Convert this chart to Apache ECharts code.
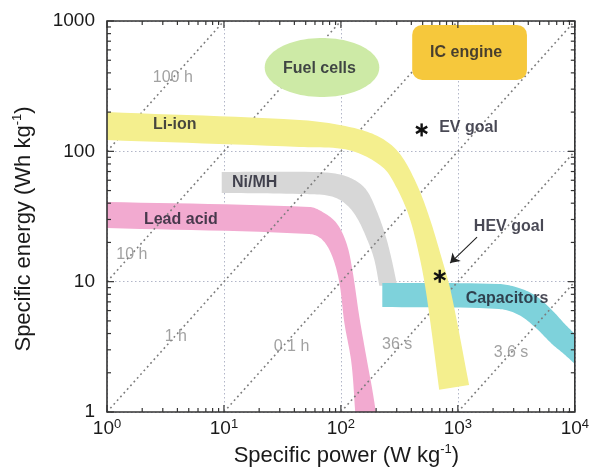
<!DOCTYPE html>
<html><head><meta charset="utf-8">
<script src="https://cdn.jsdelivr.net/npm/echarts@6/dist/echarts.min.js"></script>
<style>html,body{margin:0;padding:0;background:#fff}#c{width:592px;height:473px}</style>
</head><body><div id="c"></div>
<script>
// ---------- axis ticks ----------
const xTicks = [1, 10, 100, 1000, 10000];
const xTickExponents = ['0', '1', '2', '3', '4'];
const yTicks = [1, 10, 100, 1000];
const yTickLabels = ['1', '10', '100', '1000'];
const minorMultipliers = [2, 3, 4, 5, 6, 7, 8, 9];

// ---------- constant discharge-time lines (E = P * t) ----------
const timeLineNames = ['100 h', '10 h', '1 h', '0.1 h', '36 s', '3.6 s'];
const timeLineEnds = [
  [[1, 100], [10, 1000]],
  [[1, 10], [100, 1000]],
  [[1, 1], [1000, 1000]],
  [[10, 1], [10000, 1000]],
  [[100, 1], [10000, 100]],
  [[1000, 1], [10000, 10]]
];
const timeLabelPos = [[3.65, 366], [1.63, 16.0], [3.88, 3.76], [37.8, 3.15], [303, 3.27], [2845, 2.84]];

// ---------- technology bands (outer edge / inner edge, [W/kg, Wh/kg]) ----------
const liIonOuter = [[1, 200], [44.3, 174], [118, 154], [213, 129], [315, 97], [440, 57.2], [569, 31.4], [734, 14.7], [876, 8.2], [1247, 1.61]];
const liIonInner = [[1, 122], [44.3, 108], [118, 102], [226, 75.9], [297, 53.3], [384, 31.4], [476, 14.7], [547, 7.24], [692, 1.48]];

const niMHOuter = [[9.57, 69.5], [57.1, 69.5], [93.3, 67.1], [130.4, 60.3], [165, 50.6], [200.8, 35.5], [239.7, 22.8], [269.7, 15.2], [303, 9.3]];
const niMHInner = [[9.57, 48.0], [44.3, 47.1], [79.8, 45.5], [107.1, 40.2], [135.6, 31.4], [168.3, 20.9], [193.1, 14.7], [213, 9.3]];

const leadOuter = [[1, 40.9], [53.9, 37.4], [69.6, 34.3], [91.5, 28.2], [111.4, 19.8], [125.3, 12.3], [143.8, 5.36], [165, 2.64], [185.6, 1.48], [200.8, 0.95]];
const leadInner = [[1, 25.8], [53.9, 23.2], [69.6, 20.9], [84.6, 15.5], [97.1, 9.77], [107.1, 4.82], [123, 2.38], [133, 0.95]];

const capOuter = [[225.9, 9.77], [2249, 9.60], [3327, 8.95], [4648, 7.77], [6365, 6.06], [8222, 4.73], [10000, 3.97]];
const capInner = [[225.9, 6.40], [2249, 6.17], [3327, 5.55], [4648, 4.41], [6365, 3.33], [8054, 2.79], [10000, 2.34]];

// ---------- regions: [Pmin, Pmax], [Emin, Emax] ----------
const fuelCellP = [22.3, 213], fuelCellE = [261, 741];
const icEngineP = [407, 3897], icEngineE = [353, 933];

// ---------- goals ----------
const goalPoints = [[490, 146], [700, 11]];
const hevArrow = [[1459, 22.0], [859, 13.9]];

// ---------- text labels ----------
const techLabels = ['Li-ion', 'Ni/MH', 'Lead acid', 'Fuel cells', 'IC engine', 'HEV goal', 'Capacitors'];
const techLabelPos = [[3.80, 160], [18.3, 57.2], [4.28, 29.7], [65.6, 429], [1175, 569], [2735, 26.3], [2630, 7.37]];
const evLabel = 'EV goal', evLabelPos = [692, 151];

const FONT = 'Liberation Sans, Arial, Helvetica, sans-serif';

// smooth an open polyline (pixel space) with tangent-limited cubic Bezier segments
function smoothPts(pts, seg) {
  const n = pts.length, out = [];
  const dir = i => {
    const a = pts[Math.max(i - 1, 0)], b = pts[Math.min(i + 1, n - 1)];
    const dx = b[0] - a[0], dy = b[1] - a[1], l = Math.hypot(dx, dy) || 1;
    return [dx / l, dy / l];
  };
  for (let i = 0; i < n - 1; i++) {
    const p1 = pts[i], p2 = pts[i + 1];
    const L = Math.hypot(p2[0] - p1[0], p2[1] - p1[1]) / 3;
    const d1 = dir(i), d2 = dir(i + 1);
    const c1 = [p1[0] + d1[0] * L, p1[1] + d1[1] * L], c2 = [p2[0] - d2[0] * L, p2[1] - d2[1] * L];
    for (let k = 0; k < seg; k++) {
      const t = k / seg, u = 1 - t;
      const b0 = u * u * u, b1 = 3 * u * u * t, b2 = 3 * u * t * t, b3 = t * t * t;
      out.push([b0 * p1[0] + b1 * c1[0] + b2 * c2[0] + b3 * p2[0], b0 * p1[1] + b1 * c1[1] + b2 * c2[1] + b3 * p2[1]]);
    }
  }
  out.push(pts[n - 1]);
  return out;
}

function band(name, outer, inner, color, z) {
  return {
    type: 'custom', name, z, clip: true, silent: true,
    data: outer.concat(inner),
    renderItem: (params, api) => {
      if (params.dataIndex !== 0) return;
      const o = smoothPts(outer.map(p => api.coord(p)), 12);
      const i = smoothPts(inner.map(p => api.coord(p)), 12).reverse();
      return { type: 'polygon', shape: { points: o.concat(i) }, style: { fill: color } };
    }
  };
}

const chart = echarts.init(document.getElementById('c'));

const series = [];
series.push(band('Lead acid', leadOuter, leadInner, '#f2aad0', 2));
series.push(band('Ni/MH', niMHOuter, niMHInner, '#d7d7d7', 3));
series.push(band('Capacitors', capOuter, capInner, '#7ed2db', 4));

timeLineEnds.forEach((seg, i) => {
  series.push({
    type: 'line', name: timeLineNames[i], z: 5, silent: true, symbol: 'none',
    data: seg,
    lineStyle: { color: '#7c7c7c', width: 1.6, type: [1.8, 3.2] }
  });
});

series.push(band('Li-ion', liIonOuter, liIonInner, '#f4ef8e', 6));

series.push({
  type: 'custom', name: 'Fuel cells', z: 7, silent: true,
  data: [[fuelCellP[0], fuelCellE[0]], [fuelCellP[1], fuelCellE[1]]],
  renderItem: (params, api) => {
    if (params.dataIndex !== 0) return;
    const a = api.coord([fuelCellP[0], fuelCellE[0]]), b = api.coord([fuelCellP[1], fuelCellE[1]]);
    const cx = (a[0] + b[0]) / 2, cy = (a[1] + b[1]) / 2, rx = Math.abs(b[0] - a[0]) / 2, ry = Math.abs(b[1] - a[1]) / 2;
    const pts = [];
    for (let k = 0; k < 90; k++) { const th = k / 90 * Math.PI * 2; pts.push([cx + rx * Math.cos(th), cy + ry * Math.sin(th)]); }
    return { type: 'polygon', shape: { points: pts }, style: { fill: '#cdeaa6' } };
  }
});

series.push({
  type: 'custom', name: 'IC engine', z: 7, silent: true,
  data: [[icEngineP[0], icEngineE[0]], [icEngineP[1], icEngineE[1]]],
  renderItem: (params, api) => {
    if (params.dataIndex !== 0) return;
    const a = api.coord([icEngineP[0], icEngineE[0]]), b = api.coord([icEngineP[1], icEngineE[1]]);
    return { type: 'rect', shape: { x: a[0], y: b[1], width: b[0] - a[0], height: a[1] - b[1], r: 10 }, style: { fill: '#f6c83c' } };
  }
});

series.push({
  type: 'lines', coordinateSystem: 'cartesian2d', z: 8, silent: true,
  symbol: ['none', 'arrow'], symbolSize: 9,
  data: [{ coords: hevArrow }],
  lineStyle: { color: '#222', width: 1.1, opacity: 1 }
});

series.push({
  type: 'custom', name: 'goals', z: 9, silent: true,
  data: goalPoints,
  renderItem: (params, api) => {
    const c = api.coord([api.value(0), api.value(1)]);
    const r = 6.5, ch = [];
    [90, 30, 150].forEach(a => {
      const rad = a * Math.PI / 180, dx = r * Math.cos(rad), dy = r * Math.sin(rad);
      ch.push({ type: 'line', shape: { x1: c[0] - dx, y1: c[1] - dy, x2: c[0] + dx, y2: c[1] + dy }, style: { stroke: '#111', lineWidth: 2.4 } });
    });
    return { type: 'group', children: ch };
  }
});

series.push({
  type: 'scatter', z: 10, silent: true, symbolSize: 1, itemStyle: { color: 'rgba(0,0,0,0)' },
  data: techLabels.map((t, i) => ({ name: t, value: techLabelPos[i] }))
    .concat([{ name: evLabel, value: evLabelPos, label: { align: 'left' } }]),
  label: { show: true, position: 'inside', formatter: '{b}', fontFamily: FONT, fontWeight: 'bold', fontSize: 16, color: '#1b1b2b' }
});

series.push({
  type: 'scatter', z: 10, silent: true, symbolSize: 1, itemStyle: { color: 'rgba(0,0,0,0)' },
  data: timeLineNames.map((t, i) => ({ name: t, value: timeLabelPos[i] })),
  label: { show: true, position: 'inside', formatter: '{b}', fontFamily: FONT, fontSize: 16, color: '#8a8a8a' }
});

// frame with inward ticks on all four sides
series.push({
  type: 'custom', name: 'frame', z: 11, silent: true, clip: false,
  data: [[xTicks[0], yTicks[0]]],
  renderItem: (params, api) => {
    const bl = api.coord([xTicks[0], yTicks[0]]);
    const tr = api.coord([xTicks[xTicks.length - 1], yTicks[yTicks.length - 1]]);
    const L = bl[0], B = bl[1], R = tr[0], T = tr[1];
    const st = { stroke: '#333', lineWidth: 1.2 };
    const ch = [];
    const vt = (x, len) => {
      ch.push({ type: 'line', shape: { x1: x, y1: B, x2: x, y2: B - len }, style: st });
      ch.push({ type: 'line', shape: { x1: x, y1: T, x2: x, y2: T + len }, style: st });
    };
    const ht = (y, len) => {
      ch.push({ type: 'line', shape: { x1: L, y1: y, x2: L + len, y2: y }, style: st });
      ch.push({ type: 'line', shape: { x1: R, y1: y, x2: R - len, y2: y }, style: st });
    };
    xTicks.forEach((d, i) => {
      vt(api.coord([d, yTicks[0]])[0], 7);
      if (i < xTicks.length - 1) minorMultipliers.forEach(m => vt(api.coord([d * m, yTicks[0]])[0], 4));
    });
    yTicks.forEach((d, i) => {
      ht(api.coord([xTicks[0], d])[1], 7);
      if (i < yTicks.length - 1) minorMultipliers.forEach(m => ht(api.coord([xTicks[0], d * m])[1], 4));
    });
    ch.push({ type: 'rect', shape: { x: L, y: T, width: R - L, height: B - T }, style: { fill: 'none', stroke: '#333', lineWidth: 1.6 } });
    return { type: 'group', children: ch };
  }
});

const richName = {
  b: { fontFamily: FONT, fontSize: 22, lineHeight: 26, color: '#1a1a1a' },
  sup: { fontFamily: FONT, fontSize: 13, lineHeight: 14, verticalAlign: 'top', color: '#1a1a1a' }
};

chart.setOption({
  animation: false,
  backgroundColor: '#ffffff',
  grid: { left: 107, right: 16, top: 21, bottom: 61 },
  xAxis: {
    type: 'log', logBase: 10, min: 1, max: 10000,
    name: '{b|Specific power (W kg}{sup|-1}{b|)}',
    nameLocation: 'middle', nameGap: 30,
    nameTextStyle: { rich: richName, padding: [0, 0, 0, 11] },
    axisLine: { show: false }, axisTick: { show: false },
    splitLine: { show: true, lineStyle: { color: '#b2b6c8', width: 1, type: [1.5, 2.5] } },
    axisLabel: {
      margin: 6,
      formatter: (v, i) => '{b|10}{sup|' + xTickExponents[xTicks.indexOf(Math.round(v))] + '}',
      rich: {
        b: { fontFamily: FONT, fontSize: 19, lineHeight: 22, color: '#1a1a1a' },
        sup: { fontFamily: FONT, fontSize: 13, lineHeight: 13, verticalAlign: 'top', color: '#1a1a1a' }
      }
    }
  },
  yAxis: {
    type: 'log', logBase: 10, min: 1, max: 1000,
    name: '{b|Specific energy (Wh kg}{sup|-1}{b|)}',
    nameLocation: 'middle', nameGap: 70,
    nameTextStyle: { rich: richName, padding: [0, 25, 0, 0] },
    axisLine: { show: false }, axisTick: { show: false },
    splitLine: { show: true, lineStyle: { color: '#b2b6c8', width: 1, type: [1.5, 2.5] } },
    axisLabel: {
      margin: 12, fontFamily: FONT, fontSize: 19, color: '#1a1a1a',
      formatter: v => yTickLabels[yTicks.indexOf(Math.round(v))]
    }
  },
  series
});
</script>
</body></html>
